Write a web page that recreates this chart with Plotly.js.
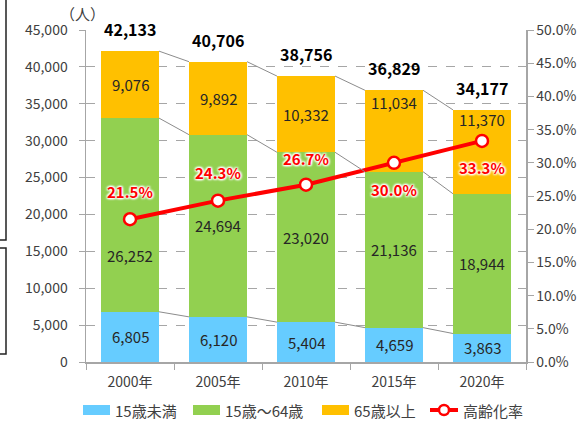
<!DOCTYPE html>
<html>
<head>
<meta charset="utf-8">
<script src="https://cdn.plot.ly/plotly-3.0.1.min.js"></script>
<style>html,body{margin:0;padding:0;background:#fff;}#chart{width:586px;height:422px;}</style>
</head>
<body>
<div id="chart"></div>
<script>
const years = ['2000年','2005年','2010年','2015年','2020年'];
const under15 = [6805, 6120, 5404, 4659, 3863];
const working = [26252, 24694, 23020, 21136, 18944];
const over65 = [9076, 9892, 10332, 11034, 11370];
const totals = [42133, 40706, 38756, 36829, 34177];
const agingRate = [21.5, 24.3, 26.7, 30.0, 33.3];
const rateName = '高齢化率';

const FONT = '"Noto Sans CJK JP", "Noto Sans", sans-serif';
const BAR_W = 0.66;
const fmt = v => v.toLocaleString('en-US');

const traces = [];
const segs = [
  {name: '15歳未満', vals: under15, color: '#66CCFF'},
  {name: '15歳〜64歳', vals: working, color: '#92D050'},
  {name: '65歳以上', vals: over65, color: '#FFC000'}
];
segs.forEach(s => traces.push({
  type: 'bar', x: years, y: s.vals, name: s.name, width: BAR_W,
  marker: {color: s.color, line: {width: 0}}, hoverinfo: 'skip', showlegend: false
}));

// series (connector) lines between bars
const cum1 = under15;
const cum2 = under15.map((v, i) => v + working[i]);
const cum3 = cum2.map((v, i) => v + over65[i]);
[cum1, cum2, cum3].forEach(c => {
  const xs = [], ys = [];
  for (let i = 0; i < c.length - 1; i++) {
    xs.push(i + BAR_W / 2, i + 1 - BAR_W / 2, null);
    ys.push(c[i], c[i + 1], null);
  }
  traces.push({type: 'scatter', mode: 'lines', x: xs, y: ys, xaxis: 'x2', yaxis: 'y',
    line: {color: '#8c8c8c', width: 1}, showlegend: false, hoverinfo: 'skip'});
});

const RED = '#FF0000';
traces.push({
  type: 'scatter', mode: 'lines+markers', x: years, y: agingRate, name: rateName, yaxis: 'y3',
  line: {color: RED, width: 4},
  marker: {symbol: 'circle', size: 12, color: '#FFFFFF', line: {color: RED, width: 2.5}},
  hoverinfo: 'skip', showlegend: false
});

const annotations = [];
const greenShift = [-41, 0, 0, 0, 0];
const orangeShift = [0, 0, 0, 28, 32];
years.forEach((yr, i) => {
  const lbl = {font: {family: FONT, size: 15, color: '#262626'}, showarrow: false, xref: 'x', yref: 'y'};
  annotations.push(Object.assign({x: yr, y: under15[i] / 2, text: fmt(under15[i])}, lbl));
  annotations.push(Object.assign({x: yr, y: under15[i] + working[i] / 2, yshift: greenShift[i], text: fmt(working[i])}, lbl));
  annotations.push(Object.assign({x: yr, y: cum2[i] + over65[i] / 2, yshift: orangeShift[i], text: fmt(over65[i])}, lbl));
  annotations.push({x: yr, y: totals[i], yshift: 22, text: fmt(totals[i]), showarrow: false, xref: 'x', yref: 'y',
    font: {family: FONT, size: 16, color: '#000000', weight: 'bold'}});
});
const rateShift = [28, 28, 26, -27, -27];
years.forEach((yr, i) => {
  annotations.push({x: yr, y: agingRate[i], yshift: rateShift[i], xref: 'x', yref: 'y3', showarrow: false,
    text: agingRate[i].toFixed(1) + '%',
    font: {family: FONT, size: 15, color: RED, weight: 'bold',
      shadow: '1px 1px 2px #fff, -1px -1px 2px #fff, 1px -1px 2px #fff, -1px 1px 2px #fff, 0 0 3px #fff'}});
});

const plotL = 86, plotR = 526, plotT = 30, plotB = 362;
const px = x => (x - plotL) / (plotR - plotL);
const py = y => (plotB - y) / (plotB - plotT);
annotations.push({xref: 'paper', yref: 'paper', x: px(82), y: py(13), xanchor: 'center', yanchor: 'middle',
  text: '（人）', showarrow: false, font: {family: FONT, size: 15, color: '#404040'}});
const shapes = [
  {type: 'rect', xref: 'paper', yref: 'paper', x0: px(-6), x1: px(6), y0: py(-6), y1: py(240), line: {color: '#222', width: 1.5}},
  {type: 'rect', xref: 'paper', yref: 'paper', x0: px(-6), x1: px(6), y0: py(248), y1: py(354), line: {color: '#222', width: 1.5}}
];

// custom legend (wide swatches, like the reference)
const legY = 410;
const legSwatchX = [83, 193, 322];
segs.forEach((s, i) => {
  shapes.push({type: 'rect', xref: 'paper', yref: 'paper', x0: px(legSwatchX[i]), x1: px(legSwatchX[i] + 27),
    y0: py(legY - 5), y1: py(legY + 5), fillcolor: s.color, line: {width: 0}});
  annotations.push({xref: 'paper', yref: 'paper', x: px(legSwatchX[i] + 30), y: py(legY), xanchor: 'left', yanchor: 'middle',
    text: s.name, showarrow: false, font: {family: FONT, size: 15, color: '#404040'}});
});
shapes.push({type: 'line', xref: 'paper', yref: 'paper', x0: px(430), x1: px(458), y0: py(legY), y1: py(legY),
  line: {color: RED, width: 4}});
shapes.push({type: 'circle', xref: 'paper', yref: 'paper', x0: px(439), x1: px(449), y0: py(legY - 5), y1: py(legY + 5),
  fillcolor: '#fff', line: {color: RED, width: 2.5}});
annotations.push({xref: 'paper', yref: 'paper', x: px(461), y: py(legY), xanchor: 'left', yanchor: 'middle',
  text: rateName, showarrow: false, font: {family: FONT, size: 15, color: '#404040'}});

const layout = {
  width: 586, height: 422,
  margin: {l: 86, r: 60, t: 30, b: 60, autoexpand: false},
  paper_bgcolor: '#fff', plot_bgcolor: '#fff',
  barmode: 'stack',
  font: {family: FONT, size: 14, color: '#404040'},
  showlegend: false,
  xaxis: {type: 'category', showline: true, linecolor: '#a6a6a6', linewidth: 1.5,
    ticks: 'outside', tickson: 'boundaries', ticklen: 6, tickcolor: '#a6a6a6', ticklabelstandoff: 7,
    tickfont: {family: FONT, size: 14, color: '#404040'}, showgrid: false, fixedrange: true},
  xaxis2: {overlaying: 'x', range: [-0.5, 4.5], visible: false, fixedrange: true},
  yaxis: {range: [0, 45000], dtick: 5000, tickformat: ',', showline: true, linecolor: '#a6a6a6', linewidth: 1.5,
    ticks: 'outside', ticklen: 6, tickcolor: '#a6a6a6', ticklabelstandoff: 8,
    showgrid: true, gridcolor: '#a6a6a6', griddash: 'dash', gridwidth: 1, zeroline: false,
    tickfont: {family: FONT, size: 14, color: '#404040'}},
  yaxis3: {overlaying: 'y', side: 'right', range: [0, 50], dtick: 5, tickformat: '.1f', ticksuffix: '%',
    showline: true, linecolor: '#a6a6a6', linewidth: 1.5, ticks: 'outside', ticklen: 6, tickcolor: '#a6a6a6',
    showgrid: false, zeroline: false, tickfont: {family: FONT, size: 14, color: '#404040'}},
  annotations: annotations,
  shapes: shapes
};

Plotly.newPlot('chart', traces, layout, {displayModeBar: false, staticPlot: true});
</script>
</body>
</html>
